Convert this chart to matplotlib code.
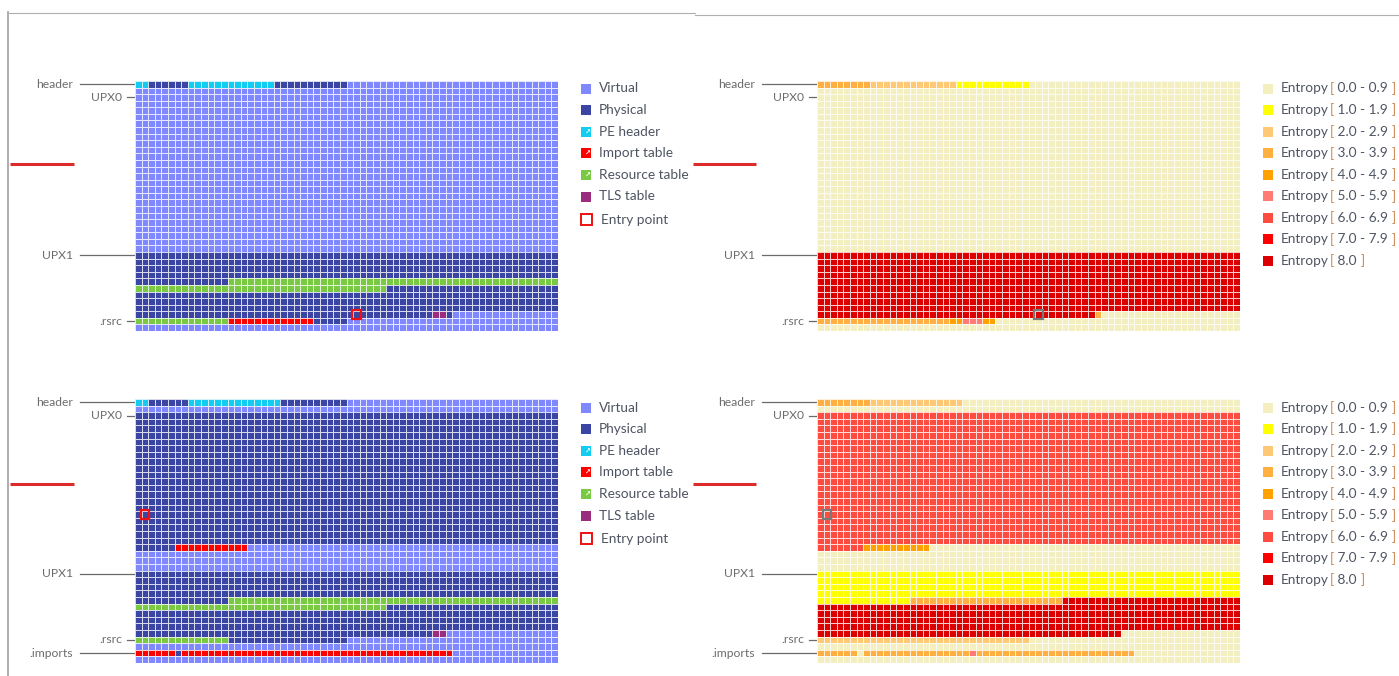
import numpy as np
import matplotlib
matplotlib.use("Agg")
import matplotlib.pyplot as plt
from matplotlib.colors import ListedColormap, BoundaryNorm
from matplotlib.patches import Rectangle

W, H = 1399, 676
N_COLS = 64

# ---- categories and colours -------------------------------------------------
SECTION_CATS = ["Virtual", "Physical", "PE header", "Import table",
                "Resource table", "TLS table"]
SECTION_COLORS = ["#8088ff", "#3b45a3", "#12ccf2", "#ff0000", "#7ac943", "#9b2d7f"]
SECTION_ARROW = [False, False, True, True, True, False]

ENTROPY_RANGES = ["0.0 - 0.9", "1.0 - 1.9", "2.0 - 2.9", "3.0 - 3.9", "4.0 - 4.9",
                  "5.0 - 5.9", "6.0 - 6.9", "7.0 - 7.9", "8.0"]
ENTROPY_COLORS = ["#f3efc0", "#ffff00", "#ffc875", "#ffb040", "#ffa200",
                  "#ff7b74", "#ff4c40", "#ff0000", "#dd0000"]

# ---- block maps: (first_row, last_row, first_col, last_col, category) --------
# later runs overwrite earlier ones; unlisted cells keep category 0
top_rows = 38
top_sections = [
    (0, 0, 0, 1, 2), (0, 0, 2, 7, 1), (0, 0, 8, 20, 2), (0, 0, 21, 31, 1),
    (26, 34, 0, 63, 1),
    (30, 30, 14, 63, 4),
    (31, 31, 0, 37, 4),
    (35, 35, 0, 47, 1), (35, 35, 45, 46, 5),
    (36, 36, 0, 13, 4), (36, 36, 14, 26, 3), (36, 36, 27, 31, 1),
]
top_entropy = [
    (0, 0, 0, 7, 3), (0, 0, 8, 20, 2), (0, 0, 21, 31, 1),
    (26, 34, 0, 63, 8),
    (35, 35, 0, 41, 8), (35, 35, 42, 42, 3),
    (36, 36, 0, 19, 3), (36, 36, 20, 21, 4), (36, 36, 22, 24, 5), (36, 36, 25, 26, 4),
]
top_labels = [("header", 0, True), ("UPX0", 2, False), ("UPX1", 26, True), (".rsrc", 36, False)]
top_entry = (35, 33)

bottom_rows = 40
bottom_sections = [
    (0, 0, 0, 1, 2), (0, 0, 2, 7, 1), (0, 0, 8, 21, 2), (0, 0, 22, 31, 1),
    (2, 21, 0, 63, 1),
    (22, 22, 0, 5, 1), (22, 22, 6, 16, 3),
    (26, 35, 0, 63, 1),
    (30, 30, 14, 63, 4),
    (31, 31, 0, 37, 4),
    (35, 35, 45, 46, 5), (35, 35, 47, 63, 0),
    (36, 36, 0, 13, 4), (36, 36, 14, 31, 1),
    (38, 38, 0, 47, 3), (38, 38, 6, 6, 1),
]
bottom_entropy = [
    (0, 0, 0, 7, 3), (0, 0, 8, 21, 2),
    (2, 21, 0, 63, 6),
    (22, 22, 0, 6, 6), (22, 22, 7, 16, 4),
    (26, 29, 0, 63, 1),
    (30, 30, 0, 13, 1), (30, 30, 14, 36, 3), (30, 30, 37, 63, 8),
    (31, 34, 0, 63, 8),
    (35, 35, 0, 45, 8),
    (36, 36, 0, 31, 2),
    (38, 38, 0, 47, 3), (38, 38, 6, 6, 0), (38, 38, 23, 23, 5),
]
bottom_labels = [("header", 0, True), ("UPX0", 2, False), ("UPX1", 26, True),
                 (".rsrc", 36, False), (".imports", 38, True)]
bottom_entry = (17, 1)

FONT = "Lato"
LABEL_COLOR = "#6c6c6c"
TEXT_COLOR = "#4f5462"
BRACKET_COLOR = "#c8824a"


def build_grid(n_rows, runs):
    grid = np.zeros((n_rows, N_COLS), dtype=int)
    for r0, r1, c0, c1, cat in runs:
        grid[r0:r1 + 1, c0:c1 + 1] = cat
    return grid


fig = plt.figure(figsize=(W / 100, H / 100), dpi=100)
fig.patch.set_facecolor("white")

# full-figure overlay in pixel units for frame, labels and legends
ov = fig.add_axes([0, 0, 1, 1])
ov.set_xlim(0, W)
ov.set_ylim(H, 0)
ov.axis("off")

# frame and position markers
ov.plot([8, 8], [12, H], color="#a0a0a0", lw=1.2)
ov.plot([8, 695], [12.5, 12.5], color="#b0b0b0", lw=0.8)
ov.plot([695, W], [14.5, 14.5], color="#b0b0b0", lw=0.8)
for yy in (163.5, 483.5):
    ov.plot([10, 74], [yy, yy], color="#dd2a2a", lw=2.2, solid_capstyle="butt")
    ov.plot([693, 756], [yy, yy], color="#dd2a2a", lw=2.2, solid_capstyle="butt")


def draw_panel(x0, y0, x1, y1, n_rows, runs, colors, labels, entry, entry_color):
    grid = build_grid(n_rows, runs)
    ax = fig.add_axes([x0 / W, 1 - y1 / H, (x1 - x0) / W, (y1 - y0) / H])
    cmap = ListedColormap(colors)
    norm = BoundaryNorm(np.arange(len(colors) + 1) - 0.5, len(colors))
    ax.pcolormesh(np.arange(N_COLS + 1), np.arange(n_rows + 1), grid,
                  cmap=cmap, norm=norm, edgecolors=(1, 1, 1, 0.8), linewidth=0.55)
    ax.set_xlim(0, N_COLS)
    ax.set_ylim(n_rows, 0)
    ax.axis("off")
    er, ec = entry
    ax.add_patch(Rectangle((ec - 0.12, er - 0.12), 1.24, 1.24, fill=False,
                           edgecolor=entry_color, lw=1.6, clip_on=False, zorder=5))
    cell_h = (y1 - y0) / n_rows
    for name, row, long_leader in labels:
        yy = y0 + (row + 0.5) * cell_h
        if long_leader:
            ov.plot([x0 - 55, x0 - 1], [yy, yy], color="#6a6a6a", lw=0.9)
            ov.text(x0 - 62, yy, name, ha="right", va="center", fontsize=8.7,
                    color=LABEL_COLOR, family=FONT)
        else:
            ov.plot([x0 - 8, x0 - 1], [yy, yy], color="#6a6a6a", lw=0.9)
            ov.text(x0 - 13, yy, name, ha="right", va="center", fontsize=8.7,
                    color=LABEL_COLOR, family=FONT)
    return ax


def section_legend(x, y):
    step = 21.6
    for i, (name, col) in enumerate(zip(SECTION_CATS, SECTION_COLORS)):
        yy = y + i * step
        ov.add_patch(Rectangle((x, yy - 5), 10, 10, facecolor=col, edgecolor="none"))
        if SECTION_ARROW[i]:
            ov.text(x + 5.5, yy + 0.5, "\u2197", ha="center", va="center", fontsize=5,
                    color="white", family="DejaVu Sans", fontweight="bold")
        ov.text(x + 18, yy, name, ha="left", va="center", fontsize=9.8,
                color=TEXT_COLOR, family=FONT)
    yy = y + len(SECTION_CATS) * step + 1.5
    ov.add_patch(Rectangle((x, yy - 5.5), 11, 11, fill=False, edgecolor="#ee1111", lw=1.4))
    ov.text(x + 20, yy, "Entry point", ha="left", va="center", fontsize=9.8,
            color=TEXT_COLOR, family=FONT)


def entropy_legend(x, y, renderer):
    step = 21.55
    for i, (rng, col) in enumerate(zip(ENTROPY_RANGES, ENTROPY_COLORS)):
        yy = y + i * step
        ov.add_patch(Rectangle((x, yy - 5), 10, 10, facecolor=col, edgecolor="none"))
        cx = x + 18
        for piece, pc in (("Entropy", TEXT_COLOR), ("[", BRACKET_COLOR),
                          (" " + rng + " ", TEXT_COLOR), ("]", BRACKET_COLOR)):
            t = ov.text(cx, yy, piece, ha="left", va="center", fontsize=9.8,
                        color=pc, family=FONT)
            cx += t.get_window_extent(renderer).width + 0.5


draw_panel(135, 81, 558, 331, top_rows, top_sections, SECTION_COLORS,
           top_labels, top_entry, "#ee1111")
draw_panel(135, 399, 558, 663, bottom_rows, bottom_sections, SECTION_COLORS,
           bottom_labels, bottom_entry, "#ee1111")
draw_panel(817, 81, 1240, 331, top_rows, top_entropy, ENTROPY_COLORS,
           top_labels, top_entry, "#7a7a7a")
draw_panel(817, 399, 1240, 663, bottom_rows, bottom_entropy, ENTROPY_COLORS,
           bottom_labels, bottom_entry, "#7a7a7a")

section_legend(581, 88.5)
section_legend(581, 407.5)

fig.canvas.draw()
rend = fig.canvas.get_renderer()
entropy_legend(1263, 88.5, rend)
entropy_legend(1263, 407.5, rend)

fig.savefig("out.png", dpi=100, facecolor="white")
